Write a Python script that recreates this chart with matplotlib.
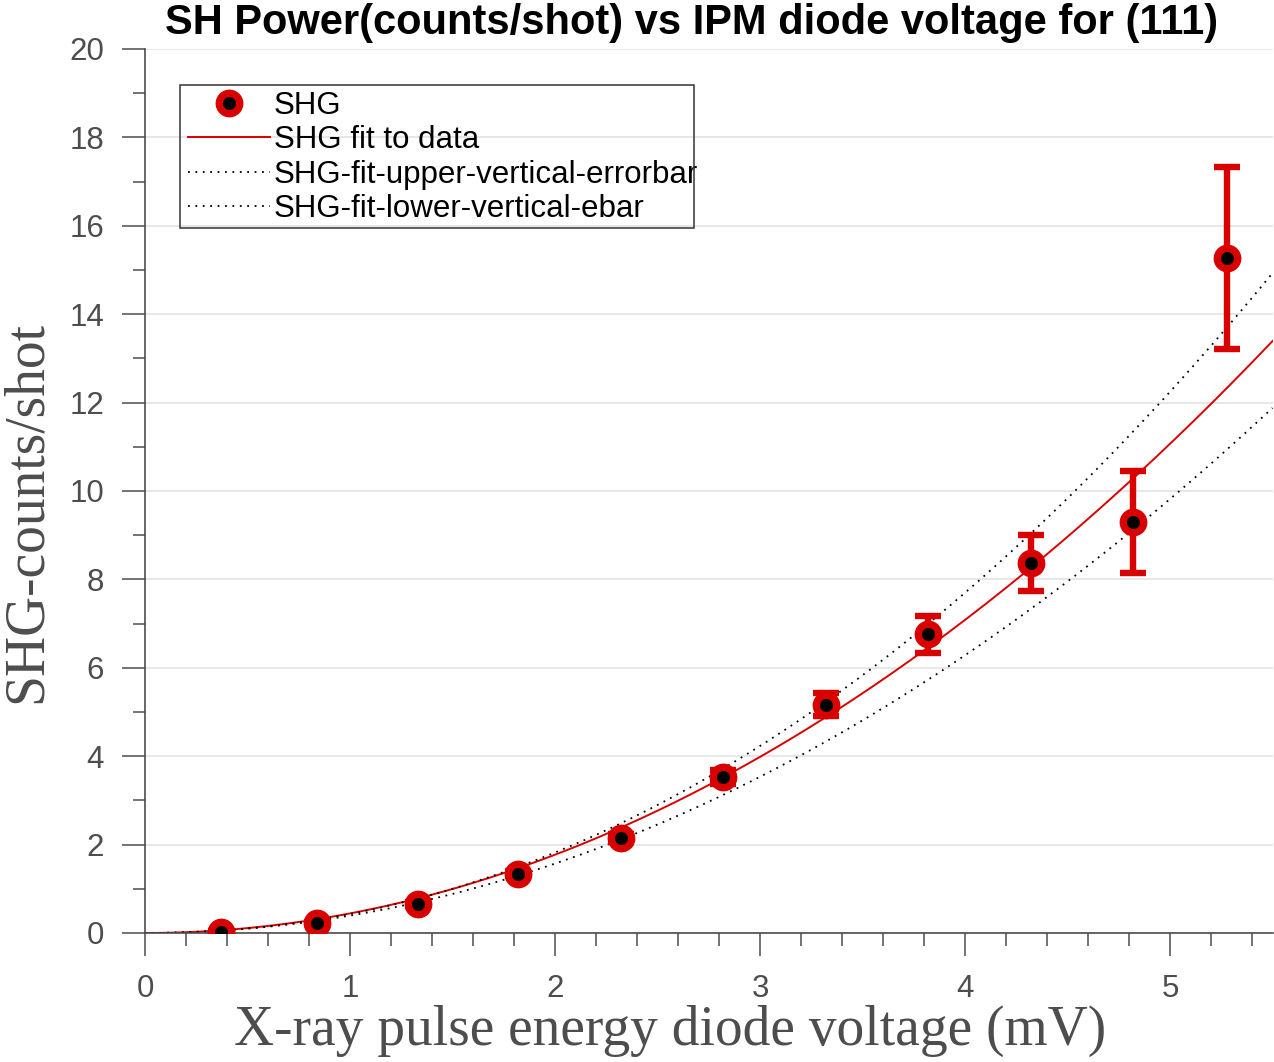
import numpy as np
import matplotlib
matplotlib.use("Agg")
import matplotlib.pyplot as plt
from matplotlib.patches import Rectangle
from matplotlib.ticker import MultipleLocator

# ---- data ----
diode_mV = [0.37, 0.84, 1.33, 1.82, 2.32, 2.82, 3.32, 3.82, 4.32, 4.82, 5.28]
shg_counts = [0.03, 0.22, 0.66, 1.34, 2.15, 3.53, 5.16, 6.76, 8.37, 9.30, 15.27]
shg_err = [0.01, 0.02, 0.04, 0.06, 0.10, 0.15, 0.26, 0.42, 0.64, 1.15, 2.06]

# fit parameters (power-law y = c * x^p)
fit_c, fit_p = 0.4427, 2.0
upper_c, upper_p = 0.4306, 2.08
lower_c, lower_p = 0.3927, 2.0

title = "SH Power(counts/shot) vs IPM diode voltage for (111)"
xlabel = "X-ray pulse energy diode voltage (mV)"
ylabel = "SHG-counts/shot"
legend_labels = ["SHG", "SHG fit to data", "SHG-fit-upper-vertical-errorbar",
                 "SHG-fit-lower-vertical-ebar"]

# ---- figure ----
W, H = 1274, 1062
fig = plt.figure(figsize=(W / 100, H / 100), dpi=100)
ax = fig.add_axes([145 / W, (H - 933) / H, (1272.5 - 145) / W, (933 - 49) / H])

red = "#d90000"
gray = "#4d4d4d"
sans = ["Liberation Sans", "DejaVu Sans"]
serif = ["Liberation Serif", "DejaVu Serif"]

xf = np.linspace(0, 5.5, 300)
ax.errorbar(diode_mV, shg_counts, yerr=shg_err, fmt="none", ecolor=red,
            elinewidth=4.6, capsize=9.7, capthick=4.6, zorder=3)
h_pts, = ax.plot(diode_mV, shg_counts, "o", ms=14.7, mfc="black", mec=red,
                 mew=5.3, zorder=4, label=legend_labels[0])
h_fit, = ax.plot(xf, fit_c * xf ** fit_p, color=red, lw=1.4, zorder=2,
                 label=legend_labels[1])
h_up, = ax.plot(xf, upper_c * xf ** upper_p, color="black", lw=1.3,
                dashes=(1, 3.1), zorder=2, label=legend_labels[2])
h_lo, = ax.plot(xf, lower_c * xf ** lower_p, color="black", lw=1.3,
                dashes=(1, 3.1), zorder=2, label=legend_labels[3])

ax.set_xlim(0, 5.5)
ax.set_ylim(0, 20)
ax.xaxis.set_major_locator(MultipleLocator(1))
ax.xaxis.set_minor_locator(MultipleLocator(0.2))
ax.yaxis.set_major_locator(MultipleLocator(2))
ax.yaxis.set_minor_locator(MultipleLocator(1))

for s in ["top", "right"]:
    ax.spines[s].set_visible(False)
for s in ["left", "bottom"]:
    ax.spines[s].set_color(gray)
    ax.spines[s].set_linewidth(1.2)

ax.tick_params(which="both", direction="out", color=gray, width=1.1)
ax.tick_params(which="major", length=16.5, labelsize=22.5, labelcolor=gray)
ax.tick_params(axis="y", which="major", pad=13)
ax.tick_params(axis="x", which="major", pad=13)
ax.tick_params(which="minor", length=9)
for lab in ax.get_xticklabels() + ax.get_yticklabels():
    lab.set_family(sans)

ax.yaxis.grid(True, which="major", color="#e3e3e3", lw=1.2)
ax.set_axisbelow(True)

fig.text(692 / W, 1 - 34 / H, title, ha="center", va="baseline",
         fontsize=30, fontweight="bold", family=sans, color="black")
fig.text(670 / W, 1 - 1045 / H, xlabel, ha="center", va="baseline",
         fontsize=40, family=serif, color=gray)
fig.text(27 / W, 1 - 512 / H, ylabel, ha="center", va="center", rotation=90,
         fontsize=40, family=serif, color=gray)

leg = ax.legend(handles=[h_pts, h_fit, h_up, h_lo], loc="upper left",
                bbox_to_anchor=(188 / W, 1 - 91 / H), bbox_transform=fig.transFigure,
                frameon=False, prop={"family": sans, "size": 22.5},
                handlelength=2.62, handletextpad=0.13, labelspacing=0.14,
                borderpad=0, borderaxespad=0, markerscale=1.0)
for t in leg.get_texts():
    t.set_color("black")

fig.patches.append(Rectangle((180 / W, 1 - 228 / H), (694 - 180) / W, (228 - 85) / H,
                             transform=fig.transFigure, fill=False,
                             edgecolor="#333333", lw=1.1, zorder=5))

fig.savefig("out.png", dpi=100)
